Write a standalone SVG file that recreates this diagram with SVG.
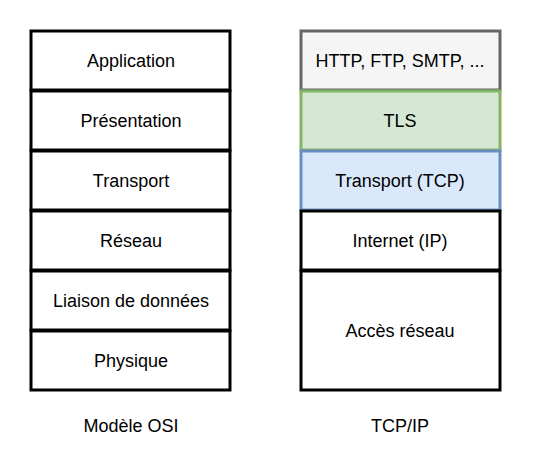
<svg xmlns="http://www.w3.org/2000/svg" width="541" height="461" viewBox="0 0 541 461">
<style>
rect{stroke-width:3}
.w{fill:#ffffff;stroke:#000000}
.g{fill:#f5f5f5;stroke:#666666}
.gr{fill:#d5e8d4;stroke:#82b366}
.b{fill:#dae8fc;stroke:#6c8ebf}
text{font-family:"Liberation Sans",Arial,sans-serif;font-size:18px;fill:#000;text-anchor:middle;dominant-baseline:central}
</style>
<rect width="541" height="461" fill="#ffffff" style="stroke:none"/>
<g id="osi">
<g id="application"><rect class="w" x="31" y="31" width="199" height="59"/><text x="131" y="61">Application</text></g>
<g id="presentation"><rect class="w" x="31" y="91" width="199" height="59"/><text x="131" y="121">Présentation</text></g>
<g id="transport"><rect class="w" x="31" y="151" width="199" height="59"/><text x="131" y="181">Transport</text></g>
<g id="reseau"><rect class="w" x="31" y="211" width="199" height="59"/><text x="131" y="241">Réseau</text></g>
<g id="liaison"><rect class="w" x="31" y="271" width="199" height="59"/><text x="131" y="301">Liaison de données</text></g>
<g id="physique"><rect class="w" x="31" y="331" width="199" height="59"/><text x="131" y="361">Physique</text></g>
</g>
<g id="tcpip">
<g id="http"><rect class="g" x="301" y="31" width="199" height="59"/><text x="400" y="61">HTTP, FTP, SMTP, ...</text></g>
<g id="tls"><rect class="gr" x="301" y="91" width="199" height="59"/><text x="400" y="121">TLS</text></g>
<g id="tcp"><rect class="b" x="301" y="151" width="199" height="59"/><text x="400" y="181">Transport (TCP)</text></g>
<g id="ip"><rect class="w" x="301" y="211" width="199" height="59"/><text x="400" y="241">Internet (IP)</text></g>
<g id="acces"><rect class="w" x="301" y="271" width="199" height="119"/><text x="400" y="331">Accès réseau</text></g>
</g>
<g id="connectors"></g>
<g id="labels">
<text x="131" y="426">Modèle OSI</text>
<text x="400" y="426">TCP/IP</text>
</g>
</svg>
